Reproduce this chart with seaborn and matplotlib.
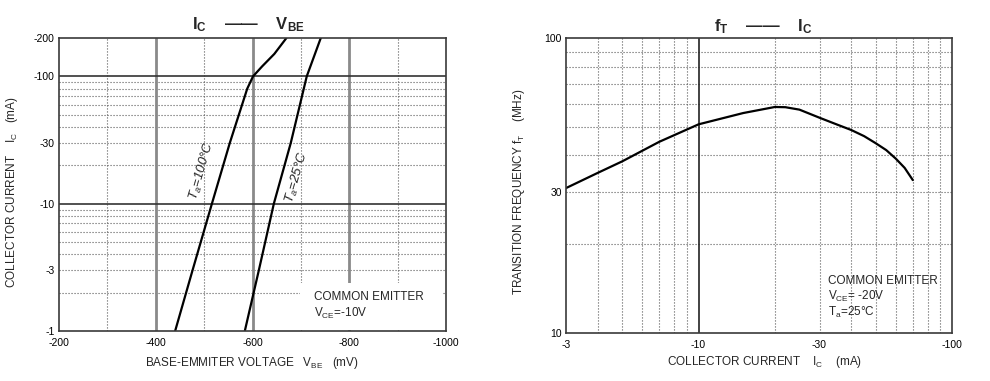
import matplotlib
matplotlib.use("Agg")
import matplotlib.pyplot as plt
import matplotlib.patches as patches
from matplotlib.ticker import NullLocator, NullFormatter
import pandas as pd
import seaborn as sns

sns.set_theme(style="white")
plt.rcParams['font.family'] = ['Liberation Sans', 'DejaVu Sans']
plt.rcParams['mathtext.fontset'] = 'custom'
plt.rcParams['mathtext.rm'] = 'Liberation Sans'
plt.rcParams['mathtext.it'] = 'Liberation Sans:italic'
plt.rcParams['mathtext.bf'] = 'Liberation Sans:bold'
plt.rcParams['mathtext.default'] = 'regular'
plt.rcParams['axes.unicode_minus'] = False

# Ic - Vbe curves (Ic magnitude in mA, Vbe in mV)
ic_100 = [1, 3, 10, 30, 80, 100, 120, 150, 200]
vbe_100 = [-440, -476, -516, -553, -589, -601, -620, -645, -670]
ic_25 = [1, 3, 10, 30, 100, 200]
vbe_25 = [-584, -613, -644, -679, -712, -741]

# fT - Ic curve (Ic magnitude in mA, fT in MHz)
ic_ft = [3, 4, 5, 7, 10, 15, 20, 22, 25, 30, 35, 40, 45, 50, 55, 60, 65, 70]
ft = [31, 34.9, 38.2, 44.5, 51, 55.7, 58.4, 58.3, 57.2, 53.7, 51.0, 48.8, 46.5,
      44, 41.7, 39, 36.3, 33]

vbe_ticks = [-200, -400, -600, -800, -1000]
ic_ticks = [1, 3, 10, 30, 100, 200]
ic_ticks2 = [3, 10, 30, 100]
ft_ticks = [10, 30, 100]

left = pd.DataFrame({
    "vbe": vbe_100 + vbe_25,
    "ic": ic_100 + ic_25,
    "temp": ["100"] * len(ic_100) + ["25"] * len(ic_25),
})
right = pd.DataFrame({"ic": ic_ft, "ft": ft})

DOT = dict(color="#5a5a5a", lw=0.8, ls=(0, (1, 1.7)), zorder=1)

fig = plt.figure(figsize=(9.9, 3.81), dpi=100)
ax1 = fig.add_axes([0.0596, 0.1312, 0.391, 0.769])
ax2 = fig.add_axes([0.5717, 0.126, 0.39, 0.774])

# ---------------- left chart: Ic - Vbe
ax1.set_yscale("log")
for v in [-300, -500, -700, -900]:
    ax1.axvline(v, **DOT)
for v in [2, 3, 4, 5, 6, 7, 8, 9, 20, 30, 40, 50, 60, 70, 80, 90]:
    ax1.axhline(v, **DOT)
for v in [-400, -600, -800]:
    ax1.axvline(v, color="#8a8a8a", lw=2, zorder=1.2)
for v in [10, 100]:
    ax1.axhline(v, color="#333333", lw=1.2, zorder=1.5)
ax1.add_patch(patches.Rectangle((0.623, 0.004), 0.368, 0.16, transform=ax1.transAxes,
                                fc="white", ec="none", zorder=1.8))

sns.lineplot(data=left, x="vbe", y="ic", hue="temp", palette=["black", "black"],
             sort=False, estimator=None, legend=False, lw=1.6, ax=ax1)

ax1.set_xlim(-200, -1000)
ax1.set_ylim(1, 200)
ax1.set_xticks(vbe_ticks, labels=[str(t) for t in vbe_ticks])
ax1.set_yticks(ic_ticks, labels=["-%d" % t for t in ic_ticks])
ax1.yaxis.set_minor_locator(NullLocator())
ax1.yaxis.set_minor_formatter(NullFormatter())
ax1.set_xlabel("")
ax1.set_ylabel("")

ax1.text(-496, 18, "T$_a$=100°C", rotation=74, fontsize=9.5, fontstyle="italic",
         ha="center", va="center", zorder=3)
ax1.text(-693, 16.2, "T$_a$=25°C", rotation=74, fontsize=9.5, fontstyle="italic",
         ha="center", va="center", zorder=3)
ax1.text(0.659, 0.116, "COMMON EMITTER", transform=ax1.transAxes, fontsize=8.5,
         va="center", zorder=3)
ax1.text(0.659, 0.061, "V$_{CE}$=-10V", transform=ax1.transAxes, fontsize=8.5,
         va="center", zorder=3)

# ---------------- right chart: fT - Ic
ax2.set_xscale("log")
ax2.set_yscale("log")
for v in [4, 5, 6, 7, 8, 9, 20, 30, 40, 50, 60, 70, 80, 90]:
    ax2.axvline(v, **DOT)
for v in [20, 30, 40, 50, 60, 70, 80, 90]:
    ax2.axhline(v, **DOT)
ax2.axvline(10, color="#222222", lw=1.2, zorder=1.5)

sns.lineplot(data=right, x="ic", y="ft", color="black", sort=False,
             estimator=None, lw=1.6, ax=ax2)

ax2.set_xlim(3, 100)
ax2.set_ylim(10, 100)
ax2.set_xticks(ic_ticks2, labels=["-%d" % t for t in ic_ticks2])
ax2.set_yticks(ft_ticks, labels=[str(t) for t in ft_ticks])
for axis in (ax2.xaxis, ax2.yaxis):
    axis.set_minor_locator(NullLocator())
    axis.set_minor_formatter(NullFormatter())
ax2.set_xlabel("")
ax2.set_ylabel("")

ax2.text(0.679, 0.178, "COMMON EMITTER", transform=ax2.transAxes, fontsize=8.5,
         va="center", zorder=3)
ax2.text(0.679, 0.123, "V$_{CE}$= -20V", transform=ax2.transAxes, fontsize=8.5,
         va="center", zorder=3)
ax2.text(0.679, 0.069, "T$_a$=25°C", transform=ax2.transAxes, fontsize=8.5,
         va="center", zorder=3)

for ax in (ax1, ax2):
    ax.tick_params(length=0, labelsize=7.5, colors="black")
    ax.tick_params(axis="x", pad=5)
    ax.tick_params(axis="y", pad=3)
    for s in ax.spines.values():
        s.set_color("#3a3a3a")
        s.set_linewidth(1.2)
        s.set_zorder(4)

# titles and axis labels
fig.text(248 / 990, 1 - 25 / 381, r"$\mathbf{I_C}$    ——    $\mathbf{V_{BE}}$",
         fontsize=12, fontweight="bold", ha="center", va="center")
fig.text(763 / 990, 1 - 27 / 381, r"$\mathbf{f_T}$    ——    $\mathbf{I_C}$",
         fontsize=12, fontweight="bold", ha="center", va="center")
fig.text(252 / 990, 1 - 363 / 381, "BASE-EMMITER VOLTAGE   V$_{BE}$   (mV)",
         fontsize=8.5, ha="center", va="center")
fig.text(765 / 990, 1 - 362 / 381, "COLLECTOR CURRENT    I$_C$    (mA)",
         fontsize=8.5, ha="center", va="center")
fig.text(12 / 990, 1 - 192 / 381, "COLLECTOR CURRENT    I$_C$   (mA)",
         fontsize=8.5, ha="center", va="center", rotation=90)
fig.text(519 / 990, 1 - 192 / 381, "TRANSITION FREQUENCY f$_T$    (MHz)",
         fontsize=8.5, ha="center", va="center", rotation=90)

fig.savefig("out.png", dpi=100, facecolor="white")
